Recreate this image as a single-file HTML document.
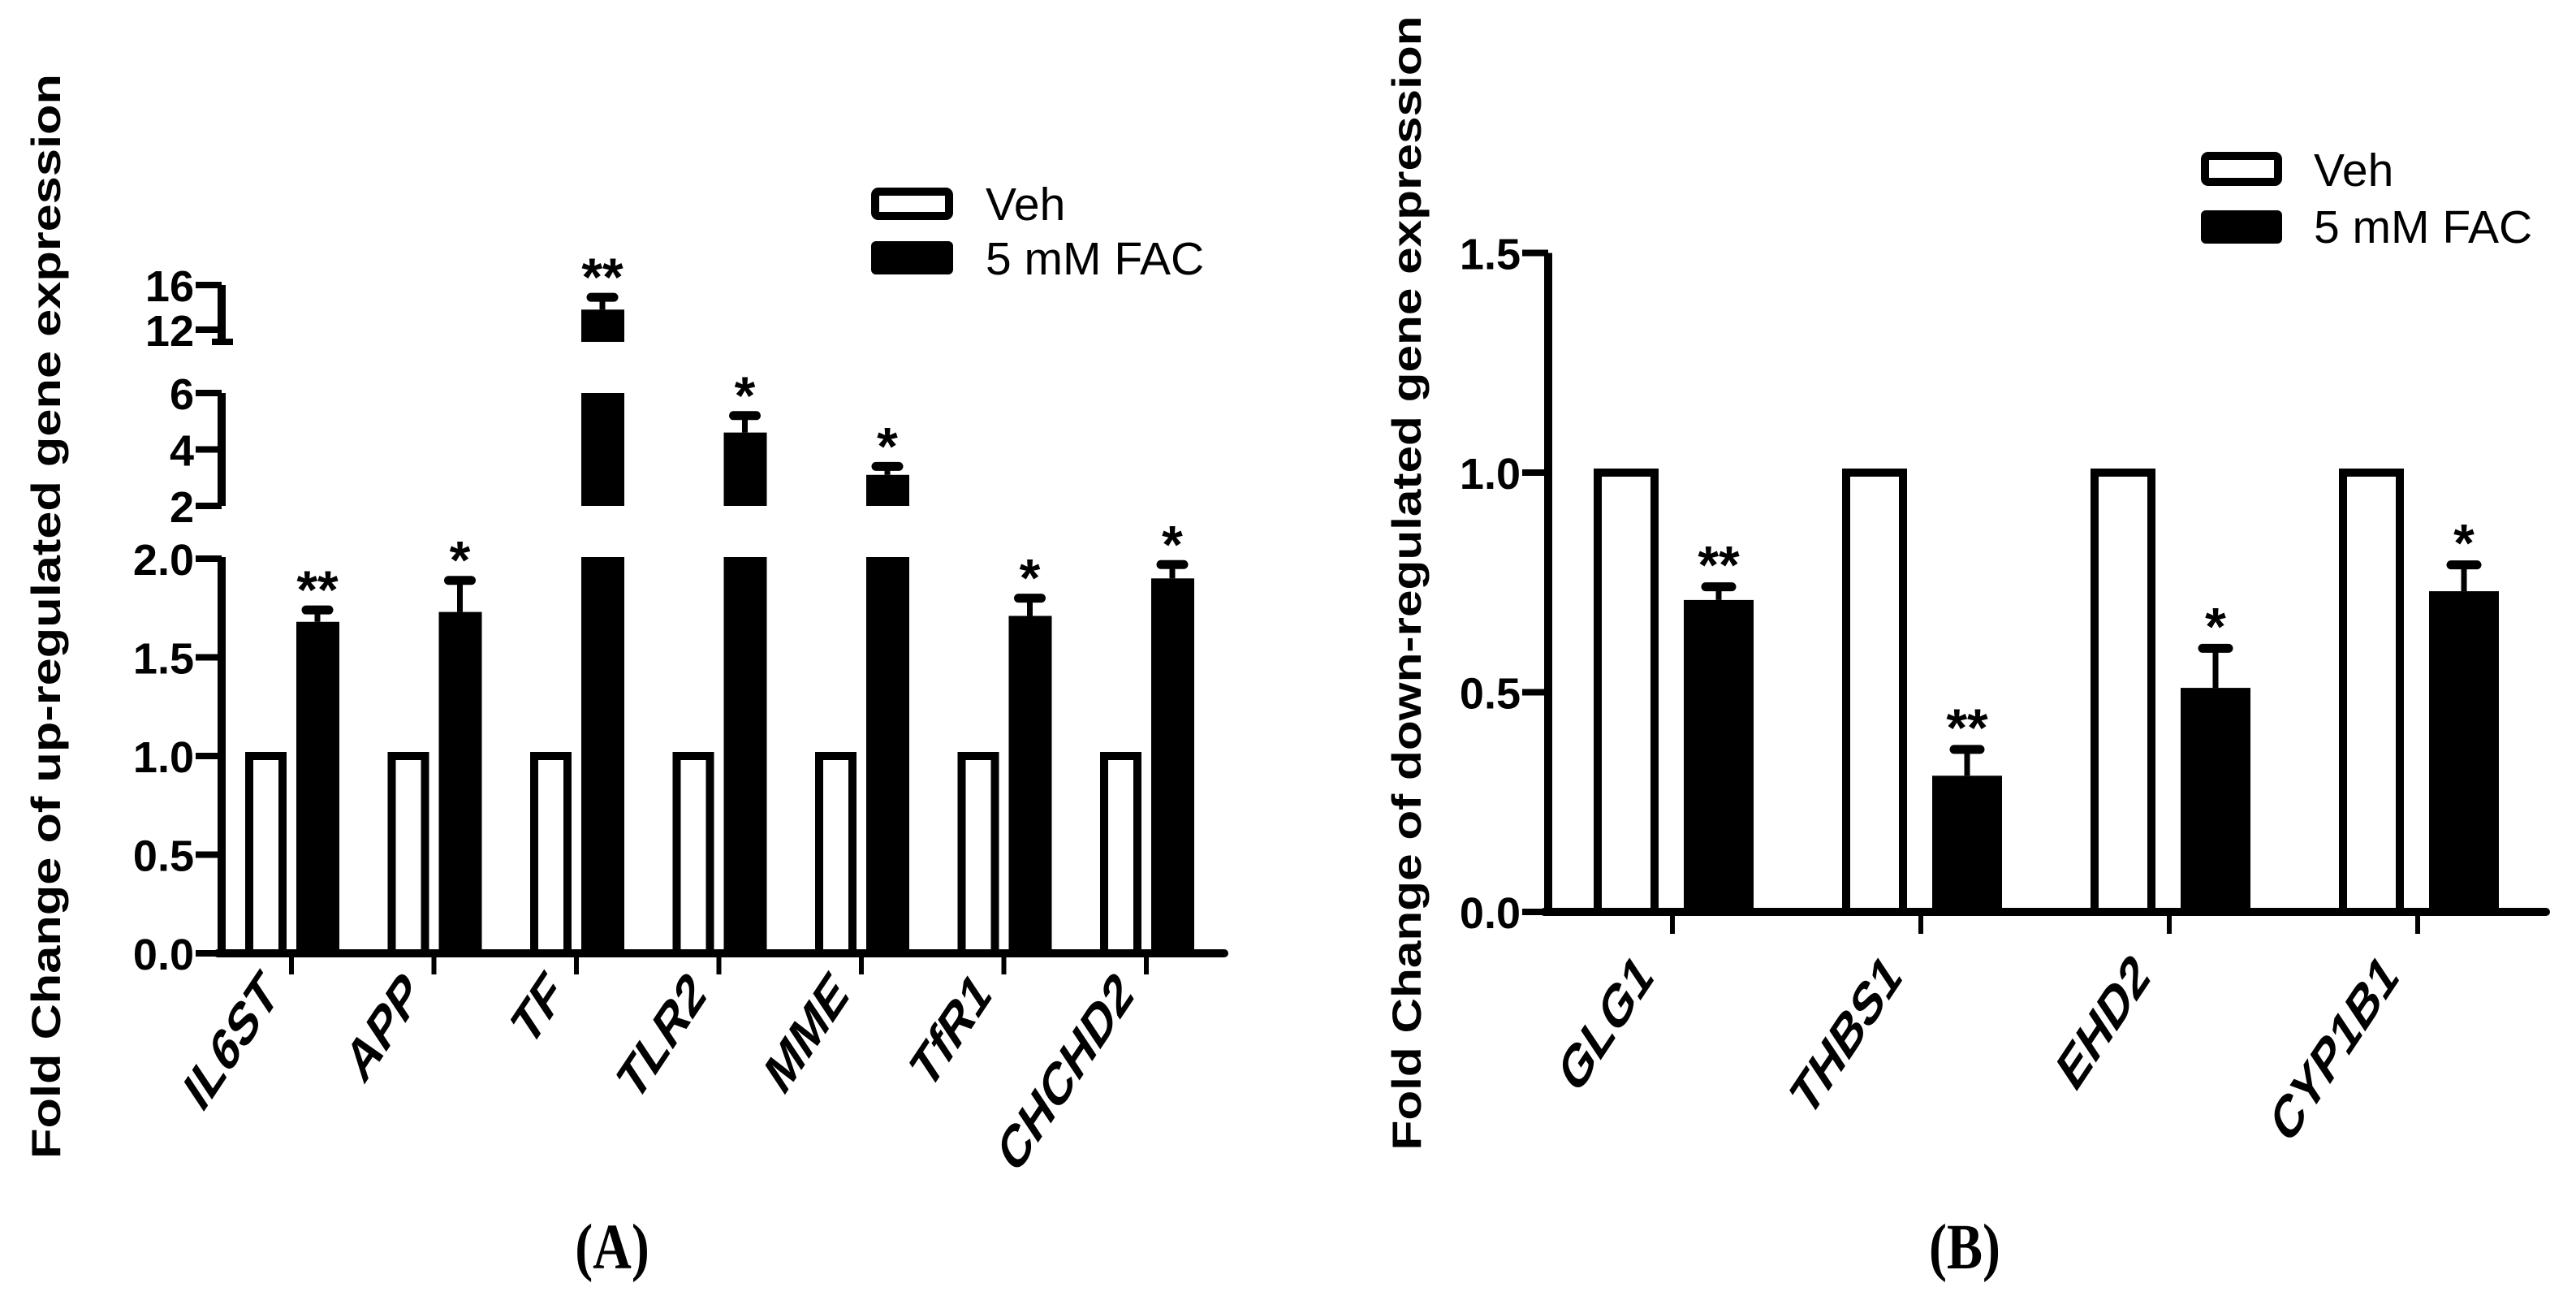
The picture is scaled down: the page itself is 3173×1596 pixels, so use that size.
<!DOCTYPE html>
<html><head><meta charset="utf-8"><style>
html,body{margin:0;padding:0;background:#fff;}
svg{display:block;font-family:"Liberation Sans",Arial,sans-serif;}
</style></head><body>
<svg id="fig" width="3173" height="1596" viewBox="0 0 3173 1596" xmlns="http://www.w3.org/2000/svg">
<rect width="3173" height="1596" fill="#fff"/>
<g id="pa"></g>
<g id="pb"></g>
</svg>
<script>
// Panel A data
const catsA = ["IL6ST","APP","TF","TLR2","MME","TfR1","CHCHD2"];
const vehA = [1,1,1,1,1,1,1];
const facA = [1.68,1.73,13.8,4.6,3.1,1.71,1.90];
const errA = [1.74,1.89,14.9,5.2,3.4,1.80,1.97];
const sigA = ["**","*","**","*","*","*","*"];
const ticksLowA = ["0.0","0.5","1.0","1.5","2.0"];
const ticksMidA = ["2","4","6"];
const ticksTopA = ["12","16"];
// Panel B data
const catsB = ["GLG1","THBS1","EHD2","CYP1B1"];
const vehB = [1,1,1,1];
const facB = [0.71,0.31,0.51,0.73];
const errB = [0.74,0.37,0.60,0.79];
const sigB = ["**","**","*","*"];
const ticksB = ["0.0","0.5","1.0","1.5"];

const NS="http://www.w3.org/2000/svg";
function mk(parent,tag,attrs,text){const e=document.createElementNS(NS,tag);for(const k in attrs)e.setAttribute(k,attrs[k]);if(text!==undefined)e.textContent=text;parent.appendChild(e);return e;}

const TICKFONT=54, STARFONT=66, LABFONT=50, LEGFONT=57;

// ---------- Panel A ----------
const A=document.getElementById('pa');
const axA=273, baseA=1174, endA=1508, x0A=359, stepA=175.5;
function yLow(v){return baseA - v*243;}
function yMid(v){return 623-(v-2)*34.75;}
function yTop(v){return 406-(v-12)*13.75;}
function yA(v){
  if(v<=2) return yLow(v);
  if(v<=6.05) return yMid(v);
  return yTop(v);
}
const segA=[[0,2,1174,686],[2,6,623,484],[10.9,16,421,351]];
function xA(i){return x0A+i*stepA;}
facA.forEach((v,i)=>{
  const x=xA(i);
  const vb=mk(A,'rect',{x:x-52,y:yA(vehA[i]),width:41,height:baseA-yA(vehA[i]),fill:'#fff',stroke:'#000','stroke-width':10});
  
  
  segA.forEach(s=>{
    if(v>s[0]){
      const top=v>=s[1]?s[3]:yA(v);
      const r=mk(A,'rect',{x:x+6,y:top,width:53,height:s[2]-top,fill:'#000'});
      
      
    }
  });
  const ey=yA(errA[i]);
  const eb=mk(A,'g',{});
  
  
  mk(eb,'line',{x1:x+32,x2:x+32,y1:yA(v),y2:ey,stroke:'#000','stroke-width':7});
  mk(eb,'line',{x1:x+18,x2:x+46,y1:ey,y2:ey,stroke:'#000','stroke-width':11,'stroke-linecap':'round'});
  const st=mk(A,'text',{x:x+32,y:ey-2,'font-size':STARFONT,'font-weight':'bold','text-anchor':'middle'},sigA[i]);
  
  
  const tk=mk(A,'line',{x1:x,x2:x,y1:baseA,y2:1200,stroke:'#000','stroke-width':6});
  
  
  const lb=mk(A,'text',{x:0,y:0,'font-size':LABFONT,'font-weight':'bold','text-anchor':'end',transform:`translate(${x-14},1228) scale(1,1.5) rotate(-45)`},catsA[i]);
  
  
});
segA.forEach(s=>{mk(A,'line',{x1:axA,x2:axA,y1:s[2]+(s[0]===0?5:0),y2:s[3],stroke:'#000','stroke-width':10});});
mk(A,'line',{x1:axA-5,x2:endA,y1:baseA,y2:baseA,stroke:'#000','stroke-width':10,'stroke-linecap':'round'});
function ytickA(lbl,y){
  mk(A,'line',{x1:axA-32,x2:axA,y1:y,y2:y,stroke:'#000','stroke-width':8});
  const t=mk(A,'text',{x:axA-34,y:y+20,'font-size':TICKFONT,'font-weight':'bold','text-anchor':'end'},lbl);
  
  
}
ticksLowA.forEach(l=>ytickA(l,yLow(parseFloat(l))));
ticksMidA.forEach(l=>ytickA(l,yMid(parseFloat(l))));
ticksTopA.forEach(l=>ytickA(l,yTop(parseFloat(l))));
mk(A,'line',{x1:axA-12,x2:axA+14,y1:421,y2:421,stroke:'#000','stroke-width':8});
const tA=mk(A,'text',{x:0,y:0,'font-size':50,'font-weight':'bold','text-anchor':'middle',textLength:1336,lengthAdjust:'spacingAndGlyphs',transform:'translate(74,759) rotate(-90)'},'Fold Change of up-regulated gene expression');


const lgA=mk(A,'g',{});


mk(lgA,'rect',{x:1078,y:236,width:91,height:30,fill:'#fff',stroke:'#000','stroke-width':10,rx:4});
mk(lgA,'text',{x:1214,y:271,'font-size':LEGFONT},'Veh');
mk(lgA,'rect',{x:1073,y:297,width:101,height:41,fill:'#000',rx:6});
mk(lgA,'text',{x:1214,y:338,'font-size':LEGFONT},'5 mM FAC');
const capA=mk(A,'text',{x:0,y:0,'font-size':66,'font-weight':'bold','font-family':'Liberation Serif, serif','text-anchor':'middle',transform:'translate(754,1562) scale(1,1.2)'},'(A)');



// ---------- Panel B ----------
const B=document.getElementById('pb');
const axB=1907, baseB=1123, endB=3136, x0B=2060, stepB=306;
function yB(v){return baseB - v*541;}
function xB(i){return x0B+i*stepB;}
facB.forEach((v,i)=>{
  const x=xB(i);
  const vb=mk(B,'rect',{x:x-92,y:yB(vehB[i]),width:70,height:baseB-yB(vehB[i]),fill:'#fff',stroke:'#000','stroke-width':10});
  
  
  const r=mk(B,'rect',{x:x+14,y:yB(v),width:86,height:baseB-yB(v),fill:'#000'});
  
  
  const ey=yB(errB[i]);
  const eb=mk(B,'g',{});
  
  
  mk(eb,'line',{x1:x+57,x2:x+57,y1:yB(v),y2:ey,stroke:'#000','stroke-width':7});
  mk(eb,'line',{x1:x+41,x2:x+73,y1:ey,y2:ey,stroke:'#000','stroke-width':11,'stroke-linecap':'round'});
  const st=mk(B,'text',{x:x+57,y:ey-4,'font-size':STARFONT,'font-weight':'bold','text-anchor':'middle'},sigB[i]);
  
  
  const tk=mk(B,'line',{x1:x,x2:x,y1:baseB,y2:1150,stroke:'#000','stroke-width':6});
  
  
  const lb=mk(B,'text',{x:0,y:0,'font-size':LABFONT,'font-weight':'bold','text-anchor':'end',transform:`translate(${x-22},1206) scale(1,1.5) rotate(-45)`},catsB[i]);
  
  
});
mk(B,'line',{x1:axB,x2:axB,y1:baseB+5,y2:yB(1.5),stroke:'#000','stroke-width':10});
mk(B,'line',{x1:axB-5,x2:endB,y1:baseB,y2:baseB,stroke:'#000','stroke-width':10,'stroke-linecap':'round'});
ticksB.forEach(l=>{
  const y=yB(parseFloat(l));
  mk(B,'line',{x1:axB-32,x2:axB,y1:y,y2:y,stroke:'#000','stroke-width':8});
  const t=mk(B,'text',{x:axB-34,y:y+20,'font-size':TICKFONT,'font-weight':'bold','text-anchor':'end'},l);
  
  
});
const tB=mk(B,'text',{x:0,y:0,'font-size':50,'font-weight':'bold','text-anchor':'middle',textLength:1397,lengthAdjust:'spacingAndGlyphs',transform:'translate(1750,718) rotate(-90)'},'Fold Change of down-regulated gene expression');


const lgB=mk(B,'g',{});


mk(lgB,'rect',{x:2716,y:192,width:90,height:32,fill:'#fff',stroke:'#000','stroke-width':10,rx:4});
mk(lgB,'text',{x:2850,y:229,'font-size':LEGFONT},'Veh');
mk(lgB,'rect',{x:2711,y:259,width:100,height:41,fill:'#000',rx:6});
mk(lgB,'text',{x:2850,y:299,'font-size':LEGFONT},'5 mM FAC');
const capB=mk(B,'text',{x:0,y:0,'font-size':66,'font-weight':'bold','font-family':'Liberation Serif, serif','text-anchor':'middle',transform:'translate(2420,1562) scale(1,1.2)'},'(B)');


</script>
</body></html>
